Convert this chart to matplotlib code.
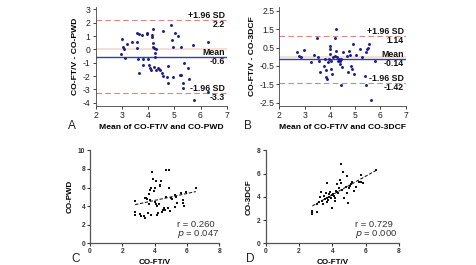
import numpy as np
import matplotlib
matplotlib.use("Agg")
import matplotlib.pyplot as plt

plt.rcParams['font.family'] = ['Liberation Sans', 'DejaVu Sans']

# Panel A: Bland-Altman CO-FT/V vs CO-PWD
a_mean = [2.95, 2.99, 3.06, 3.08, 3.10, 3.18, 3.37, 3.56, 3.56, 3.59, 3.63, 3.67, 3.67, 3.75,
          3.79, 3.82, 3.95, 3.97, 4.01, 4.05, 4.07, 4.10, 4.14, 4.16, 4.18, 4.19, 4.20, 4.23,
          4.24, 4.26, 4.27, 4.30, 4.30, 4.39, 4.43, 4.46, 4.52, 4.56, 4.58, 4.71, 4.75, 4.77,
          4.86, 4.90, 4.94, 4.96, 5.03, 5.16, 5.22, 5.24, 5.27, 5.32, 5.32, 5.37, 5.54, 5.58,
          5.73, 5.77, 6.27, 6.27]
a_diff = [-0.35, 0.75, 0.20, 0.00, -0.68, 0.38, 0.58, 1.20, 0.58, 0.12, -0.75, 1.12, -1.80, 1.08,
          -0.75, -1.18, 1.15, 1.25, -0.75, -1.18, -1.42, -1.55, 0.95, 1.08, 0.45, 1.55, 0.20, 0.08,
          -1.30, -0.55, -0.30, 0.00, -1.55, -1.42, -1.50, -1.55, -1.80, -2.00, 1.40, -2.10, -2.55, -1.25,
          1.82, 0.70, -2.05, 0.20, 1.25, 1.00, -1.95, -1.92, 0.15, -2.55, -2.90, -1.05, -1.42, -2.20,
          0.30, -3.80, -3.20, 0.55]
a_lines = [2.2, -0.6, -3.3]
a_line_labels = ["2.2", "-0.6", "-3.3"]

# Panel B: Bland-Altman CO-FT/V vs CO-3DCF
b_mean = [2.70, 2.79, 2.84, 2.96, 3.27, 3.37, 3.50, 3.53, 3.56, 3.62, 3.77, 3.79, 3.83, 3.86,
          3.90, 3.93, 3.95, 3.99, 3.99, 4.02, 4.03, 4.06, 4.10, 4.12, 4.19, 4.22, 4.23, 4.26,
          4.30, 4.32, 4.36, 4.39, 4.41, 4.45, 4.45, 4.48, 4.52, 4.68, 4.72, 4.74, 4.78, 4.85,
          4.88, 4.92, 4.96, 5.02, 5.18, 5.27, 5.40, 5.42, 5.44, 5.48, 5.51, 5.54, 5.64, 5.77]
b_diff = [0.27, 0.05, -0.04, 0.38, -0.31, 0.09, 1.01, -0.04, -0.22, -0.85, -0.52, -0.13, -0.70, -1.12,
          -1.20, -0.31, -0.13, 0.59, 0.41, 0.14, -0.22, -0.67, -0.94, -0.04, 1.01, 0.05, 1.53, 0.32,
          -0.04, -0.22, -0.13, -0.40, -0.22, -0.13, -1.53, -0.58, 0.23, 0.02, -0.81, 0.29, 0.09, -0.49,
          -0.67, 0.68, -0.94, 0.09, 0.41, -0.04, -1.06, -1.53, 0.23, 0.41, 0.50, 0.68, -2.34, -0.22]
b_lines = [1.14, -0.14, -1.42]
b_line_labels = ["1.14", "-0.14", "-1.42"]

# Panel C: CO-FT/V vs CO-PWD
c_x = [2.81, 2.79, 2.79, 3.09, 3.15, 3.35, 3.39, 3.41, 3.45, 3.52, 3.56, 3.62, 3.66, 3.70,
       3.72, 3.76, 3.80, 3.86, 3.90, 3.96, 4.00, 4.02, 4.06, 4.10, 4.12, 4.16, 4.20, 4.26,
       4.32, 4.36, 4.40, 4.46, 4.53, 4.57, 4.61, 4.69, 4.87, 4.73, 4.81, 4.89, 4.97, 5.03,
       5.09, 5.23, 5.29, 5.33, 5.37, 5.64, 5.74, 5.76, 5.80, 5.94, 6.55]
c_y = [4.55, 3.33, 3.05, 3.12, 2.97, 2.94, 4.91, 2.69, 4.84, 4.77, 3.23, 4.19, 5.27, 4.66,
       5.73, 5.91, 3.05, 7.71, 6.88, 5.66, 5.99, 4.41, 4.27, 6.70, 4.01, 3.05, 3.23, 4.19,
       6.27, 6.16, 6.74, 3.41, 3.58, 3.76, 3.55, 7.89, 7.89, 5.02, 3.76, 5.99, 3.48, 4.84,
       4.77, 5.20, 3.94, 4.95, 4.30, 5.38, 4.66, 4.30, 4.01, 5.56, 6.00]
c_r, c_p = "0.260", "0.047"

# Panel D: CO-FT/V vs CO-3DCF
d_x = [2.80, 2.80, 2.80, 3.06, 3.06, 3.20, 3.26, 3.30, 3.40, 3.46, 3.50, 3.54, 3.60, 3.66,
       3.66, 3.70, 3.74, 3.80, 3.82, 3.86, 3.90, 3.96, 4.00, 4.04, 4.10, 4.14, 4.16, 4.20,
       4.26, 4.30, 4.34, 4.40, 4.46, 4.50, 4.54, 4.60, 4.66, 4.70, 4.80, 4.86, 4.90, 4.96,
       5.00, 5.06, 5.14, 5.20, 5.30, 5.40, 5.60, 5.70, 5.74, 5.82, 6.60]
d_y = [2.81, 2.64, 2.49, 2.72, 3.35, 3.52, 4.01, 4.44, 3.64, 3.35, 4.10, 3.81, 4.30, 3.93,
       5.21, 3.52, 3.72, 4.01, 4.21, 4.44, 3.87, 4.15, 3.01, 4.21, 4.10, 3.87, 3.64, 4.50,
       5.07, 4.44, 4.30, 4.73, 5.44, 6.79, 5.16, 4.58, 6.16, 3.87, 4.87, 5.82, 4.30, 3.44,
       4.73, 4.96, 5.07, 5.30, 4.50, 4.87, 5.24, 5.87, 5.30, 5.16, 6.30]
d_r, d_p = "0.729", "0.000"

W, H = 477, 265
fig = plt.figure(figsize=(W / 100, H / 100), dpi=100)

def ax_px(l, r, t, b):
    return fig.add_axes([l / W, 1 - b / H, (r - l) / W, (b - t) / H])

navy = "#1c1c8a"
mean_blue = "#3040b0"
sd_red = "#d08888"
zero_col = "#f3ddd0"

def bland(ax, xs, ys, lines, labels, ylim, yticks, ytlabels, xlabel, ylabel):
    ax.axhline(0, color=zero_col, lw=1.3, zorder=1)
    ax.axhline(lines[0], color=sd_red, lw=0.8, ls=(0, (5, 3)), zorder=1)
    ax.axhline(lines[2], color=sd_red, lw=0.8, ls=(0, (5, 3)), zorder=1)
    ax.axhline(lines[1], color=mean_blue, lw=1.0, zorder=2)
    ax.scatter(xs, ys, s=4.5, color=navy, zorder=3, linewidths=0)
    ax.set_xlim(2, 7)
    ax.set_ylim(*ylim)
    ax.set_xticks([2, 3, 4, 5, 6, 7])
    ax.set_yticks(yticks)
    ax.set_yticklabels(ytlabels)
    for s in ("top", "right"):
        ax.spines[s].set_visible(False)
    for s in ("left", "bottom"):
        ax.spines[s].set_color("#444444")
        ax.spines[s].set_linewidth(0.6)
    ax.tick_params(labelsize=6.2, length=2.5, width=0.6, pad=1.2, colors="#222222")
    ax.set_xlabel(xlabel, fontsize=6.1, fontweight="bold", labelpad=2.5)
    ax.set_ylabel(ylabel, fontsize=6.1, fontweight="bold", labelpad=2.5)
    tr = ax.get_yaxis_transform()
    kw = dict(transform=tr, ha="right", fontsize=6.3, fontweight="bold", color="#111111")
    ax.text(0.985, lines[0], "+1.96 SD", va="bottom", **kw)
    ax.text(0.985, lines[0] , labels[0], va="top", **kw)
    ax.text(0.985, lines[1], "Mean", va="bottom", **kw)
    ax.text(0.985, lines[1], labels[1], va="top", **kw)
    ax.text(0.985, lines[2], "-1.96 SD", va="bottom", **kw)
    ax.text(0.985, lines[2], labels[2], va="top", **kw)

axA = ax_px(95.7, 226.7, 6.7, 106)
bland(axA, a_mean, a_diff, a_lines, a_line_labels, (-4.25, 3.2),
      [-4, -3, -2, -1, 0, 1, 2, 3], ["-4", "-3", "-2", "-1", "0", "1", "2", "3"],
      "Mean of CO-FT/V and CO-PWD", "CO-FT/V - CO-PWD")
axB = ax_px(279.3, 405.7, 6.7, 106)
bland(axB, b_mean, b_diff, b_lines, b_line_labels, (-2.68, 2.72),
      [-2.5, -1.5, -0.5, 0.5, 1.5, 2.5], ["-2.5", "-1.5", "-0.5", "0.5", "1.5", "2.5"],
      "Mean of CO-FT/V and CO-3DCF", "CO-FT/V - CO-3DCF")

def scat(ax, xs, ys, ylim, yticks, xlabel, ylabel, r, p):
    ax.scatter(xs, ys, s=3, color="#111111", marker="s", zorder=3, linewidths=0)
    k, c = np.polyfit(xs, ys, 1)
    xx = np.array([min(xs), max(xs)])
    ax.plot(xx, k * xx + c, color="#222222", lw=0.8, ls=(0, (3, 1.5)), zorder=2)
    ax.set_xlim(0, 8)
    ax.set_ylim(*ylim)
    ax.set_xticks([0, 2, 4, 6, 8])
    ax.set_yticks(yticks)
    for s in ("top", "right"):
        ax.spines[s].set_visible(False)
    for s in ("left", "bottom"):
        ax.spines[s].set_color("#555555")
        ax.spines[s].set_linewidth(0.9)
    ax.tick_params(labelsize=4.8, length=2.5, width=0.8, pad=1.0, colors="#333333")
    for lab in ax.get_xticklabels() + ax.get_yticklabels():
        lab.set_fontweight("bold")
    ax.set_xlabel(xlabel, fontsize=5.8, fontweight="bold", labelpad=3)
    ax.set_ylabel(ylabel, fontsize=5.8, fontweight="bold", labelpad=3)
    ax.text(0.67, 0.205, "r = " + r, transform=ax.transAxes, fontsize=6.8, color="#333333",
            va="center", ha="left")
    ax.text(0.67, 0.095, "$\\it{p}$ = " + p, transform=ax.transAxes, fontsize=6.8,
            color="#333333", va="center", ha="left")

axC = ax_px(90, 219.3, 150.3, 243.3)
scat(axC, c_x, c_y, (0, 10), [0, 2, 4, 6, 8, 10], "CO-FT/V", "CO-PWD", c_r, c_p)
axD = ax_px(265.7, 399, 150.3, 243.3)
scat(axD, d_x, d_y, (0, 8), [0, 2, 4, 6, 8], "CO-FT/V", "CO-3DCF", d_r, d_p)

for x, y, t in [(71.7, 126, "A"), (248, 126, "B"), (76, 259, "C"), (250, 259, "D")]:
    fig.text(x / W, 1 - y / H, t, fontsize=8.5, ha="center", va="center", color="#222222")

fig.savefig("out.png", dpi=100)
